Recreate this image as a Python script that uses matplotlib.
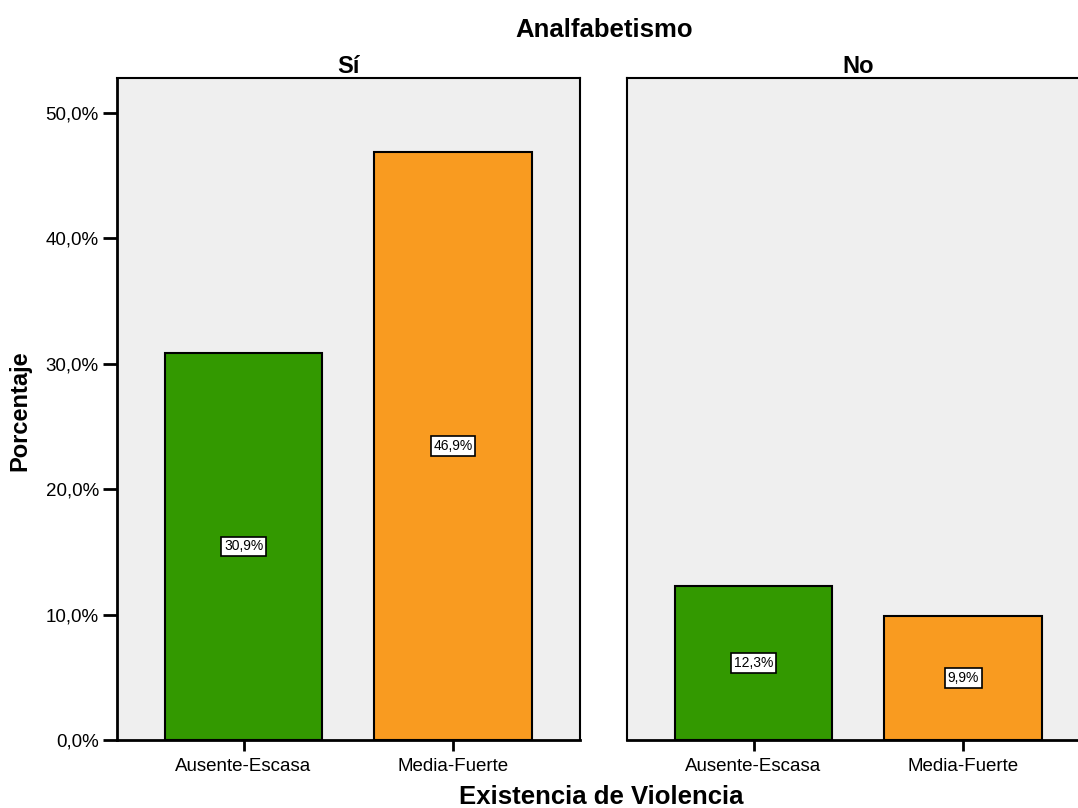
import matplotlib.pyplot as plt

categorias = ['Ausente-Escasa', 'Media-Fuerte']
paneles = ['Sí', 'No']
valores_si = [30.9, 46.9]
valores_no = [12.3, 9.9]
etiquetas_si = ['30,9%', '46,9%']
etiquetas_no = ['12,3%', '9,9%']
yticks = [0, 10, 20, 30, 40, 50]
ytick_labels = ['0,0%', '10,0%', '20,0%', '30,0%', '40,0%', '50,0%']
colores = ['#339900', '#F99B20']

plt.rcParams['font.family'] = ['Liberation Sans', 'DejaVu Sans']

W, H = 1078, 808
fig = plt.figure(figsize=(W / 100, H / 100), dpi=100)

def px(x0, y0, x1, y1):
    return [x0 / W, 1 - y1 / H, (x1 - x0) / W, (y1 - y0) / H]

ax1 = fig.add_axes(px(117, 78, 580, 740))
ax2 = fig.add_axes(px(627, 78, 1090, 740))

for ax, vals, labs, titulo in [(ax1, valores_si, etiquetas_si, paneles[0]),
                               (ax2, valores_no, etiquetas_no, paneles[1])]:
    ax.set_facecolor('#EFEFEF')
    xs = range(len(categorias))
    ax.bar(xs, vals, width=0.75, color=colores, edgecolor='black', linewidth=1.5, zorder=2)
    for x, v, l in zip(xs, vals, labs):
        ax.text(x, v / 2, l, ha='center', va='center', fontsize=10, zorder=3,
                bbox=dict(boxstyle='square,pad=0.2', fc='white', ec='black', lw=1.2))
    ax.set_xlim(-0.604, 1.606)
    ax.set_ylim(0, 52.8)
    ax.set_xticks(list(xs))
    ax.set_xticklabels(categorias, fontsize=13.5)
    ax.tick_params(axis='x', length=8, width=2, direction='out', pad=5)
    ax.set_title(titulo, fontsize=17, fontweight='bold', pad=3)
    for s in ax.spines.values():
        s.set_linewidth(1.5)
    ax.spines['bottom'].set_linewidth(2)

ax1.set_yticks(yticks)
ax1.set_yticklabels(ytick_labels, fontsize=13.5)
ax1.tick_params(axis='y', length=10, width=2, direction='out', pad=3)
ax1.spines['left'].set_linewidth(2)
ax1.set_ylabel('Porcentaje', fontsize=17, fontweight='bold')
ax1.yaxis.set_label_coords(-0.184, 0.498)

ax2.set_yticks([])
ax2.spines['left'].set_linewidth(1.5)

fig.text(604 / W, 1 - 30 / H, 'Analfabetismo', ha='center', va='center', fontsize=18.5, fontweight='bold')
fig.text(601 / W, 1 - 797 / H, 'Existencia de Violencia', ha='center', va='center', fontsize=18.5, fontweight='bold')

fig.savefig('out.png', dpi=100)
